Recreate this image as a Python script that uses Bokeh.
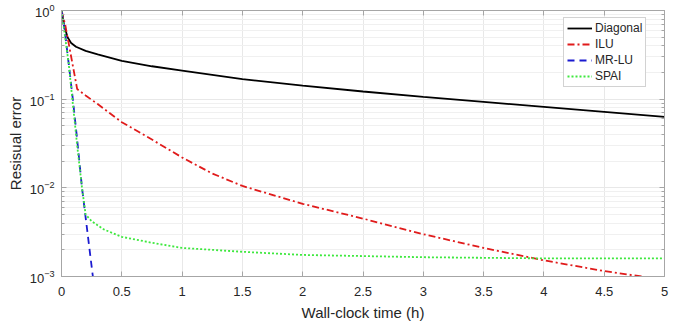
from bokeh.plotting import figure
from bokeh.models import (LinearAxis, LogAxis, Legend, LegendItem, FixedTicker, Range1d,
                          CustomJSTickFormatter)
from bokeh.embed import file_html
from bokeh.resources import INLINE

# ---- data ----
diag_t = [0, 0.02, 0.05, 0.08, 0.12, 0.2, 0.3, 0.5, 0.75, 1.0, 1.5, 2.0, 2.5, 3.0, 3.5, 4.0, 4.5, 5.0]
diag_r = [1.0, 0.7, 0.5, 0.43, 0.39, 0.35, 0.32, 0.27, 0.235, 0.21, 0.168, 0.142, 0.122, 0.106, 0.093, 0.082, 0.072, 0.063]

ilu_t = [0, 0.03, 0.13, 0.2, 0.3, 0.5, 0.75, 1.0, 1.25, 1.5, 2.0, 2.5, 3.0, 3.5, 4.0, 4.5, 5.0]
ilu_r = [1.0, 0.7, 0.13, 0.11, 0.088, 0.055, 0.035, 0.022, 0.0145, 0.0105, 0.0066, 0.0045, 0.003, 0.0021, 0.00152, 0.00115, 0.00092]

mrlu_t = [0, 0.03, 0.06, 0.094, 0.13, 0.17, 0.21, 0.26, 0.28]
mrlu_r = [1.0, 0.55, 0.25, 0.1, 0.035, 0.01, 0.0036, 0.001, 0.0006]

spai_t = [0, 0.03, 0.06, 0.09, 0.13, 0.17, 0.2, 0.25, 0.35, 0.5, 0.75, 1.0, 1.5, 2.0, 2.5, 3.0, 4.0, 5.0]
spai_r = [1.0, 0.5, 0.25, 0.1, 0.03, 0.01, 0.005, 0.0042, 0.0034, 0.0028, 0.0024, 0.0021, 0.0019, 0.00175, 0.0017, 0.00165, 0.0016, 0.0016]

x_ticks = [0, 0.5, 1, 1.5, 2, 2.5, 3, 3.5, 4, 4.5, 5]
y_ticks = [1e-3, 1e-2, 1e-1, 1e0]
minor_y = [m * 10.0 ** e for e in (-3, -2, -1) for m in range(2, 10)]

FONT = "Liberation Sans"
AX = "#a6a6a6"
TXT = "#262626"

p = figure(width=691, height=323, y_axis_type="log", output_backend="svg",
           toolbar_location=None, x_range=Range1d(0, 5), y_range=Range1d(1e-3, 1),
           min_border_left=61, min_border_right=27, min_border_top=10, min_border_bottom=47)
p.background_fill_color = "white"
p.border_fill_color = "white"
p.outline_line_color = AX
p.outline_line_width = 1

# grids
p.xgrid.ticker = FixedTicker(ticks=x_ticks)
p.xgrid.grid_line_color = "#e8e8e8"
p.ygrid.ticker = FixedTicker(ticks=y_ticks, minor_ticks=minor_y)
p.ygrid.grid_line_color = "#e8e8e8"
p.ygrid.minor_grid_line_color = "#f0f0f0"

def style_axis(ax, labels=True):
    ax.axis_line_color = AX
    ax.major_tick_line_color = AX
    ax.minor_tick_line_color = AX
    ax.major_tick_in = 5
    ax.major_tick_out = 0
    ax.minor_tick_in = 3
    ax.minor_tick_out = 0
    ax.major_label_text_font = FONT
    ax.major_label_text_font_size = "13px"
    ax.major_label_text_color = TXT
    ax.axis_label_text_font = FONT
    ax.axis_label_text_font_size = "15px"
    ax.axis_label_text_font_style = "normal"
    ax.axis_label_text_color = TXT
    if not labels:
        ax.formatter = CustomJSTickFormatter(code="return '';")
        ax.major_label_standoff = 0
        ax.major_label_text_font_size = "1px"

xa = p.xaxis[0]
xa.ticker = FixedTicker(ticks=x_ticks)
style_axis(xa)
xa.minor_tick_in = 0
xa.axis_label = "Wall-clock time (h)"
xa.major_label_standoff = 10
xa.axis_label_standoff = 5

ya = p.yaxis[0]
ya.ticker = FixedTicker(ticks=y_ticks, minor_ticks=minor_y)
style_axis(ya)
ya.axis_label = "Resisual error"
ya.major_label_standoff = 7
ya.axis_label_standoff = 3

top = LinearAxis(ticker=FixedTicker(ticks=x_ticks))
style_axis(top, labels=False)
top.minor_tick_in = 0
p.add_layout(top, "above")
right = LogAxis(ticker=FixedTicker(ticks=y_ticks, minor_ticks=minor_y))
style_axis(right, labels=False)
p.add_layout(right, "right")

r1 = p.line(diag_t, diag_r, line_color="black", line_width=1.8)
r2 = p.line(ilu_t, ilu_r, line_color="#e01b1b", line_width=1.8, line_dash="7 3 2 3")
r3 = p.line(mrlu_t, mrlu_r, line_color="#1a1ad0", line_width=1.8, line_dash="7 5")
r4 = p.line(spai_t, spai_r, line_color="#3ee83e", line_width=1.8, line_dash="2 2")

legend = Legend(items=[LegendItem(label="Diagonal", renderers=[r1]),
                       LegendItem(label="ILU", renderers=[r2]),
                       LegendItem(label="MR-LU", renderers=[r3]),
                       LegendItem(label="SPAI", renderers=[r4])],
                location=(502, 189))
legend.label_text_font = FONT
legend.label_text_font_size = "12px"
legend.label_text_color = TXT
legend.label_standoff = 3
legend.glyph_width = 25
legend.glyph_height = 14
legend.label_height = 14
legend.spacing = 2
legend.padding = 3
legend.margin = 0
legend.border_line_color = AX
legend.background_fill_color = "white"
legend.background_fill_alpha = 1
p.add_layout(legend, "center")

open("out.html", "w").write(file_html(p, INLINE))
